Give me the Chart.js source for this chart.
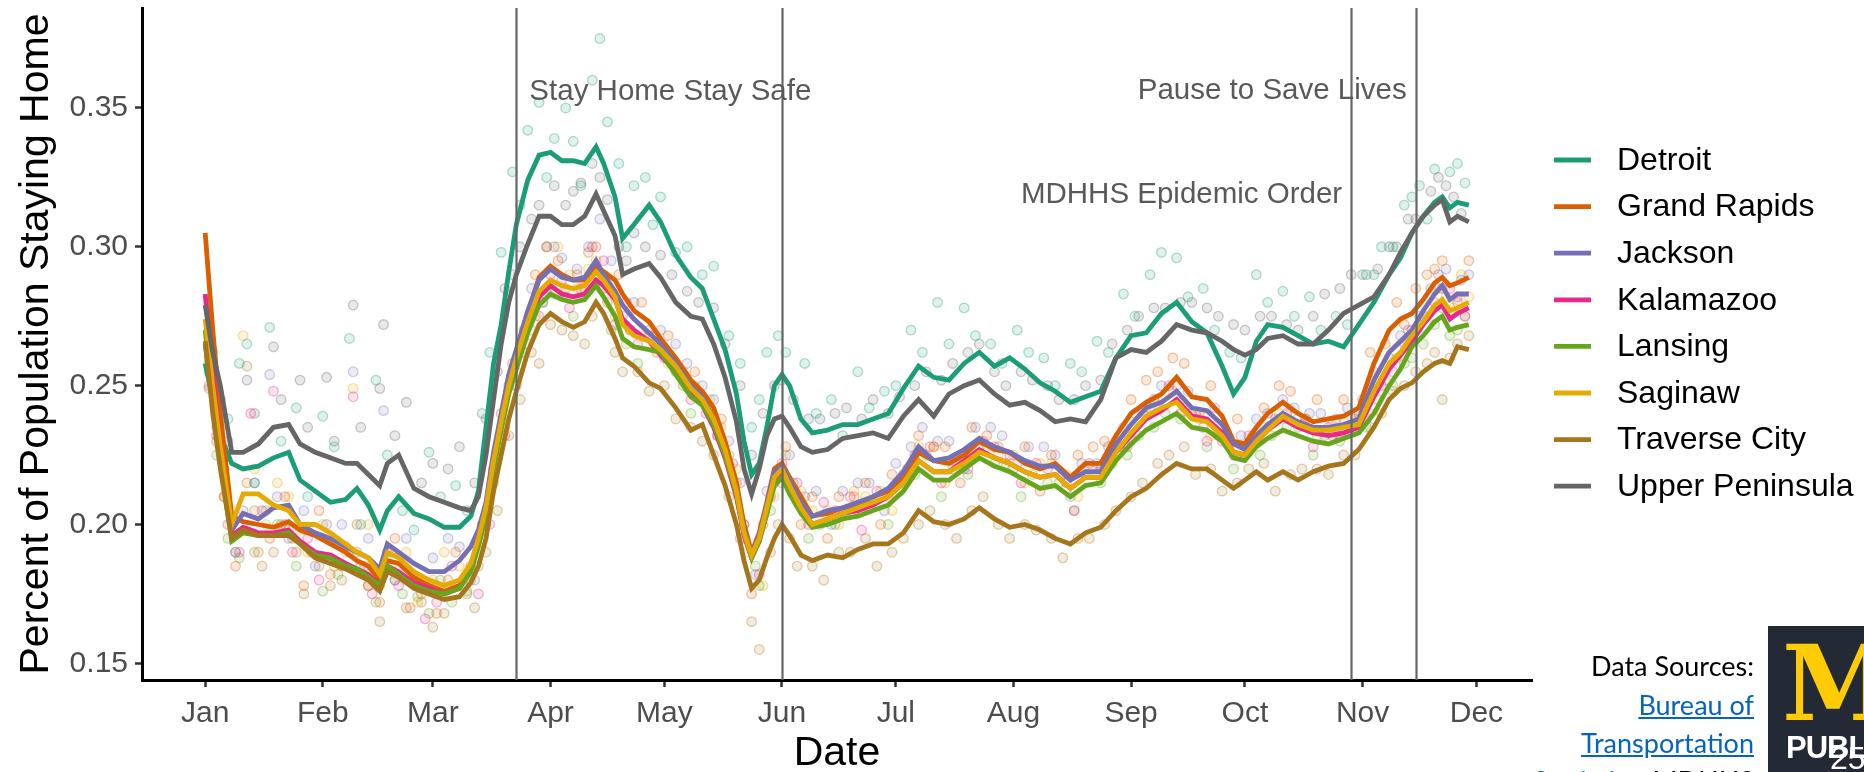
<!DOCTYPE html>
<html>
<head>
<meta charset="utf-8">
<script src="https://cdn.jsdelivr.net/npm/chart.js@4.4.1/dist/chart.umd.min.js"></script>
<style>
  body { margin: 0; background: #fff; overflow: hidden; }
  #wrap { position: relative; width: 1864px; height: 772px; }
  .src { position: absolute; right: 110px; font-family: Lato, "Open Sans", sans-serif; font-size: 27px; line-height: 30px; color: #000; white-space: nowrap; }
  .src a { color: #0563c1; text-decoration: underline; }
  #logo { position: absolute; left: 1768px; top: 626px; width: 96px; height: 146px; background: #232a35; overflow: hidden; }
  #logo .m { position: absolute; left: 14px; top: 6px; font-family: "DejaVu Serif", serif; font-weight: bold; font-size: 104px; line-height: 104px; color: #ffcb05; }
  #logo .pub { position: absolute; left: 18px; top: 104px; font-family: "Liberation Sans", Arial, sans-serif; font-weight: bold; font-size: 31px; color: #fff; letter-spacing: -1px; }
  #logo .pg { position: absolute; left: 62px; top: 114px; font-family: "Liberation Sans", Arial, sans-serif; font-size: 32px; color: #fff; }
</style>
</head>
<body>
<div id="wrap">
  <canvas id="stayHome" width="1864" height="772"></canvas>
  <div class="src" style="top:651px">Data Sources:</div>
  <div class="src" style="top:690px"><a>Bureau of</a></div>
  <div class="src" style="top:728px"><a>Transportation</a></div>
  <div class="src" style="top:766px"><a>Statistics</a>, MDHHS</div>
  <div id="logo"><span class="m">M</span><span class="pub">PUBL</span><span class="pg">25</span></div>
</div>
<script>
// day of year 2020 (Jan 1 = 0)
const days = [0,2,4,7,10,14,18,22,25,29,33,37,40,43,46,48,51,55,59,63,67,70,72,74,76,78,80,82,85,88,
  91,94,97,100,103,105,108,110,113,117,120,124,128,131,134,137,140,142,144,146,148,150,152,154,157,160,
  164,168,172,176,180,184,188,192,196,200,204,208,212,216,220,224,228,232,236,240,244,248,252,256,260,
  264,268,271,274,277,280,284,288,292,296,300,304,308,312,315,318,321,324,326,328,330,333];

// 7-day average share staying home
const detroit = [0.258,0.245,0.232,0.222,0.220,0.221,0.224,0.226,0.216,0.212,0.208,0.209,0.213,0.207,0.198,0.205,0.210,0.204,0.202,0.199,0.199,0.203,0.212,0.235,0.258,0.272,0.291,0.308,0.324,0.333,
  0.334,0.331,0.331,0.330,0.336,0.330,0.318,0.303,0.308,0.315,0.309,0.297,0.289,0.285,0.274,0.263,0.247,0.230,0.218,0.222,0.235,0.250,0.254,0.250,0.238,0.233,
  0.234,0.236,0.236,0.238,0.240,0.249,0.257,0.253,0.252,0.258,0.262,0.257,0.260,0.256,0.251,0.248,0.244,0.246,0.248,0.260,0.268,0.269,0.276,0.280,0.273,
  0.269,0.257,0.247,0.253,0.266,0.272,0.271,0.268,0.265,0.266,0.264,0.272,0.280,0.290,0.296,0.305,0.311,0.316,0.318,0.314,0.316,0.315];
const grandRapids = [0.305,0.270,0.240,0.203,0.201,0.200,0.199,0.201,0.198,0.196,0.193,0.190,0.187,0.185,0.180,0.187,0.186,0.181,0.178,0.176,0.178,0.185,0.195,0.207,0.225,0.238,0.252,0.262,0.276,0.289,
  0.293,0.290,0.288,0.288,0.293,0.291,0.288,0.283,0.277,0.273,0.267,0.260,0.252,0.248,0.242,0.230,0.215,0.200,0.190,0.197,0.208,0.220,0.222,0.217,0.210,0.203,
  0.204,0.206,0.207,0.210,0.212,0.217,0.226,0.223,0.222,0.225,0.230,0.227,0.226,0.222,0.220,0.222,0.217,0.222,0.222,0.232,0.240,0.244,0.247,0.253,0.246,
  0.245,0.239,0.230,0.229,0.235,0.240,0.244,0.240,0.237,0.238,0.239,0.242,0.258,0.270,0.274,0.276,0.281,0.287,0.289,0.286,0.287,0.289];
const jackson = [0.265,0.245,0.225,0.198,0.204,0.202,0.206,0.207,0.200,0.197,0.195,0.192,0.190,0.188,0.184,0.193,0.190,0.186,0.183,0.183,0.187,0.192,0.198,0.208,0.226,0.240,0.254,0.263,0.277,0.288,
  0.292,0.289,0.288,0.289,0.295,0.290,0.284,0.279,0.274,0.269,0.265,0.258,0.250,0.246,0.238,0.226,0.212,0.198,0.189,0.196,0.207,0.219,0.221,0.216,0.208,0.203,
  0.205,0.206,0.208,0.210,0.213,0.219,0.228,0.223,0.224,0.227,0.231,0.228,0.226,0.223,0.221,0.221,0.216,0.219,0.219,0.229,0.236,0.242,0.244,0.248,0.242,
  0.241,0.236,0.229,0.227,0.232,0.236,0.240,0.237,0.235,0.235,0.236,0.238,0.252,0.262,0.266,0.270,0.277,0.283,0.286,0.281,0.283,0.283];
const kalamazoo = [0.283,0.255,0.228,0.196,0.199,0.197,0.197,0.198,0.194,0.190,0.189,0.186,0.184,0.182,0.178,0.185,0.183,0.179,0.177,0.175,0.177,0.184,0.193,0.204,0.222,0.236,0.250,0.259,0.272,0.282,
  0.286,0.283,0.282,0.283,0.288,0.286,0.281,0.274,0.270,0.266,0.261,0.255,0.247,0.243,0.235,0.224,0.210,0.196,0.188,0.194,0.204,0.216,0.219,0.213,0.206,0.200,
  0.202,0.204,0.205,0.207,0.210,0.215,0.223,0.219,0.219,0.223,0.227,0.224,0.222,0.219,0.217,0.218,0.213,0.217,0.217,0.226,0.232,0.238,0.241,0.245,0.239,
  0.238,0.233,0.226,0.225,0.230,0.234,0.238,0.235,0.233,0.232,0.233,0.235,0.246,0.256,0.261,0.266,0.272,0.277,0.279,0.274,0.276,0.278];
const lansing = [0.270,0.245,0.222,0.194,0.197,0.196,0.196,0.197,0.193,0.189,0.188,0.185,0.184,0.181,0.178,0.185,0.182,0.178,0.176,0.175,0.177,0.183,0.192,0.203,0.220,0.234,0.247,0.256,0.269,0.279,
  0.283,0.281,0.280,0.281,0.286,0.282,0.275,0.267,0.264,0.263,0.262,0.254,0.246,0.243,0.236,0.225,0.211,0.197,0.188,0.194,0.204,0.214,0.217,0.211,0.204,0.199,
  0.200,0.202,0.203,0.205,0.207,0.212,0.220,0.216,0.216,0.220,0.224,0.221,0.219,0.216,0.213,0.214,0.210,0.214,0.215,0.223,0.229,0.234,0.237,0.240,0.235,
  0.234,0.230,0.224,0.223,0.228,0.231,0.234,0.232,0.230,0.229,0.231,0.233,0.240,0.250,0.256,0.264,0.268,0.273,0.275,0.270,0.271,0.272];
const saginaw = [0.274,0.250,0.228,0.200,0.211,0.211,0.207,0.205,0.200,0.200,0.197,0.193,0.190,0.188,0.182,0.190,0.188,0.183,0.180,0.178,0.180,0.186,0.195,0.206,0.223,0.237,0.250,0.260,0.273,0.284,
  0.288,0.286,0.285,0.286,0.291,0.288,0.282,0.272,0.268,0.266,0.263,0.257,0.249,0.245,0.238,0.227,0.212,0.197,0.189,0.195,0.206,0.217,0.220,0.214,0.206,0.200,
  0.202,0.204,0.206,0.208,0.210,0.215,0.223,0.219,0.219,0.222,0.226,0.224,0.222,0.219,0.217,0.218,0.213,0.217,0.217,0.226,0.233,0.239,0.242,0.244,0.238,
  0.237,0.232,0.226,0.225,0.230,0.234,0.239,0.236,0.234,0.234,0.235,0.236,0.248,0.258,0.262,0.268,0.273,0.279,0.281,0.277,0.278,0.280];
const traverseCity = [0.266,0.240,0.220,0.195,0.198,0.196,0.196,0.196,0.193,0.188,0.186,0.184,0.182,0.180,0.176,0.183,0.181,0.177,0.175,0.173,0.174,0.179,0.185,0.195,0.212,0.225,0.238,0.248,0.262,0.272,
  0.276,0.273,0.271,0.273,0.280,0.276,0.267,0.260,0.257,0.251,0.249,0.242,0.234,0.236,0.225,0.214,0.200,0.187,0.177,0.180,0.188,0.195,0.200,0.196,0.189,0.187,
  0.189,0.188,0.191,0.193,0.193,0.197,0.205,0.201,0.200,0.202,0.206,0.202,0.199,0.200,0.198,0.195,0.193,0.197,0.199,0.205,0.210,0.213,0.218,0.222,0.220,
  0.220,0.216,0.213,0.216,0.219,0.216,0.219,0.216,0.219,0.221,0.222,0.227,0.235,0.245,0.249,0.251,0.255,0.258,0.259,0.258,0.264,0.263];
const upperPeninsula = [0.279,0.262,0.250,0.226,0.226,0.229,0.235,0.236,0.229,0.226,0.224,0.222,0.222,0.218,0.214,0.222,0.225,0.213,0.210,0.208,0.206,0.205,0.210,0.225,0.245,0.265,0.280,0.290,0.301,0.311,
  0.311,0.308,0.308,0.311,0.319,0.313,0.304,0.290,0.292,0.294,0.289,0.280,0.275,0.274,0.265,0.253,0.237,0.220,0.211,0.220,0.232,0.238,0.239,0.235,0.228,0.226,
  0.227,0.231,0.232,0.233,0.231,0.239,0.245,0.239,0.247,0.250,0.252,0.247,0.243,0.244,0.241,0.237,0.238,0.237,0.245,0.260,0.263,0.262,0.266,0.272,0.270,
  0.269,0.266,0.263,0.261,0.263,0.267,0.268,0.265,0.265,0.270,0.276,0.279,0.282,0.290,0.298,0.305,0.311,0.315,0.317,0.309,0.311,0.309];

// daily observations (subset), [day, share]
const detroitDots = [[2,0.262],[6,0.238],[9,0.258],[11,0.265],[13,0.215],[17,0.271],[20,0.23],[24,0.242],[27,0.21],[31,0.239],[34,0.228],[38,0.267],[41,0.2],[45,0.252],[48,0.225],[52,0.205],[55,0.198],[59,0.226],[62,0.21],[66,0.214],[69,0.205],[73,0.24],[75,0.262],[78,0.298],[81,0.327],[83,0.315],[85,0.342],[88,0.352],[90,0.325],[92,0.339],[95,0.35],[97,0.338],[99,0.322],[102,0.36],[104,0.375],[106,0.345],[109,0.33],[111,0.3],[113,0.322],[116,0.325],[118,0.308],[120,0.318],[124,0.298],[127,0.3],[131,0.29],[134,0.293],[138,0.268],[141,0.258],[144,0.235],[146,0.245],[148,0.262],[151,0.268],[153,0.262],[158,0.258],[161,0.24],[165,0.245],[168,0.232],[172,0.255],[175,0.242],[179,0.248],[182,0.25],[186,0.27],[189,0.262],[193,0.28],[196,0.265],[200,0.278],[203,0.268],[207,0.265],[210,0.258],[214,0.27],[217,0.262],[221,0.26],[224,0.25],[228,0.258],[231,0.255],[235,0.266],[238,0.262],[242,0.283],[245,0.275],[249,0.29],[252,0.298],[256,0.296],[259,0.282],[263,0.285],[266,0.27],[270,0.262],[273,0.26],[277,0.29],[280,0.28],[284,0.284],[287,0.275],[291,0.282],[294,0.27],[298,0.275],[301,0.272],[305,0.29],[308,0.29],[310,0.3],[313,0.3],[316,0.315],[318,0.318],[320,0.322],[322,0.31],[324,0.328],[328,0.327],[330,0.33],[332,0.323]];
const grandRapidsDots = [[1,0.249],[3,0.243],[5,0.21],[8,0.185],[11,0.215],[14,0.19],[17,0.195],[21,0.21],[24,0.19],[26,0.178],[30,0.205],[33,0.182],[36,0.185],[40,0.2],[43,0.178],[46,0.172],[50,0.195],[54,0.17],[57,0.175],[61,0.168],[64,0.18],[66,0.19],[70,0.185],[73,0.2],[76,0.22],[78,0.24],[81,0.258],[84,0.27],[87,0.29],[90,0.3],[93,0.295],[95,0.285],[98,0.29],[101,0.298],[103,0.3],[106,0.28],[109,0.29],[112,0.27],[115,0.28],[119,0.262],[122,0.268],[126,0.25],[129,0.255],[133,0.24],[136,0.238],[140,0.215],[142,0.195],[144,0.175],[147,0.2],[150,0.215],[153,0.228],[157,0.2],[160,0.21],[164,0.195],[167,0.21],[171,0.21],[174,0.215],[178,0.2],[181,0.218],[185,0.22],[188,0.232],[192,0.228],[195,0.228],[199,0.215],[202,0.235],[206,0.232],[209,0.228],[213,0.22],[216,0.228],[220,0.212],[223,0.225],[227,0.215],[230,0.225],[234,0.228],[237,0.23],[241,0.228],[244,0.245],[248,0.252],[251,0.255],[255,0.26],[258,0.258],[262,0.24],[265,0.25],[269,0.232],[272,0.238],[276,0.228],[279,0.242],[283,0.25],[286,0.248],[290,0.238],[293,0.245],[297,0.232],[300,0.245],[304,0.24],[307,0.262],[311,0.265],[314,0.28],[316,0.272],[319,0.285],[322,0.29],[324,0.292],[326,0.295],[330,0.28],[333,0.295]];
const jacksonDots = [[1,0.25],[3,0.235],[5,0.22],[8,0.19],[10,0.205],[13,0.215],[17,0.254],[19,0.21],[22,0.195],[26,0.205],[29,0.185],[32,0.2],[36,0.2],[39,0.255],[43,0.195],[47,0.241],[50,0.18],[53,0.195],[57,0.178],[60,0.188],[64,0.195],[67,0.192],[71,0.18],[74,0.2],[77,0.225],[80,0.25],[83,0.265],[86,0.285],[89,0.28],[92,0.3],[94,0.296],[98,0.292],[101,0.3],[104,0.31],[107,0.295],[110,0.275],[113,0.28],[117,0.27],[120,0.27],[124,0.265],[127,0.258],[131,0.25],[134,0.245],[138,0.23],[141,0.215],[145,0.182],[148,0.212],[151,0.22],[154,0.225],[158,0.21],[161,0.212],[165,0.2],[168,0.212],[172,0.215],[175,0.215],[179,0.205],[182,0.222],[186,0.228],[189,0.235],[193,0.23],[196,0.23],[200,0.22],[203,0.235],[207,0.235],[210,0.232],[214,0.222],[217,0.228],[221,0.228],[224,0.225],[228,0.21],[231,0.222],[235,0.222],[238,0.228],[242,0.235],[245,0.24],[249,0.242],[252,0.25],[256,0.25],[259,0.248],[263,0.235],[266,0.242],[270,0.23],[273,0.232],[277,0.238],[280,0.24],[284,0.245],[287,0.242],[291,0.24],[294,0.24],[298,0.238],[301,0.242],[305,0.245],[308,0.255],[312,0.26],[315,0.268],[317,0.27],[320,0.275],[323,0.285],[325,0.29],[327,0.292],[331,0.288],[333,0.29]];
const kalamazooDots = [[1,0.265],[3,0.232],[6,0.2],[9,0.19],[12,0.24],[15,0.205],[18,0.248],[21,0.2],[23,0.19],[27,0.195],[30,0.18],[33,0.188],[37,0.192],[39,0.246],[41,0.185],[44,0.175],[48,0.19],[51,0.178],[55,0.18],[58,0.166],[61,0.172],[65,0.185],[68,0.18],[72,0.175],[75,0.2],[79,0.232],[82,0.25],[85,0.265],[88,0.275],[91,0.29],[94,0.288],[96,0.278],[99,0.285],[102,0.3],[105,0.295],[108,0.272],[111,0.28],[114,0.265],[118,0.268],[121,0.26],[125,0.255],[128,0.245],[132,0.24],[135,0.232],[139,0.222],[142,0.2],[146,0.182],[149,0.21],[152,0.222],[156,0.215],[159,0.2],[163,0.208],[166,0.205],[170,0.21],[173,0.198],[177,0.212],[180,0.21],[184,0.218],[187,0.225],[191,0.228],[194,0.215],[198,0.222],[201,0.22],[205,0.23],[208,0.228],[212,0.225],[215,0.215],[219,0.222],[222,0.22],[226,0.218],[229,0.205],[233,0.222],[236,0.22],[240,0.23],[243,0.228],[247,0.24],[250,0.245],[254,0.25],[257,0.24],[261,0.24],[264,0.23],[268,0.23],[271,0.225],[275,0.232],[278,0.232],[282,0.238],[285,0.24],[289,0.236],[292,0.228],[296,0.235],[299,0.232],[303,0.238],[306,0.238],[310,0.25],[313,0.255],[316,0.265],[318,0.27],[321,0.275],[324,0.28],[326,0.285],[328,0.285],[330,0.282],[332,0.275]];
const lansingDots = [[1,0.258],[3,0.225],[6,0.195],[9,0.188],[13,0.19],[16,0.205],[19,0.2],[22,0.198],[24,0.185],[28,0.19],[31,0.176],[35,0.182],[38,0.19],[42,0.185],[45,0.172],[49,0.19],[52,0.175],[56,0.174],[59,0.168],[62,0.18],[65,0.172],[69,0.176],[72,0.185],[76,0.215],[79,0.235],[82,0.255],[84,0.262],[86,0.27],[89,0.28],[92,0.283],[95,0.282],[97,0.275],[100,0.285],[103,0.29],[105,0.29],[107,0.27],[111,0.265],[114,0.258],[117,0.268],[121,0.262],[124,0.255],[128,0.24],[131,0.245],[135,0.232],[138,0.225],[142,0.2],[145,0.185],[146,0.178],[149,0.205],[152,0.215],[155,0.215],[159,0.195],[162,0.2],[166,0.2],[169,0.205],[173,0.205],[176,0.208],[180,0.2],[183,0.212],[187,0.218],[190,0.225],[194,0.21],[197,0.22],[201,0.218],[204,0.228],[208,0.222],[211,0.222],[215,0.21],[218,0.218],[222,0.215],[225,0.215],[229,0.205],[232,0.218],[236,0.215],[239,0.222],[243,0.225],[246,0.232],[250,0.235],[253,0.24],[257,0.238],[260,0.24],[264,0.228],[267,0.232],[271,0.22],[274,0.225],[278,0.225],[281,0.232],[285,0.235],[288,0.235],[292,0.225],[295,0.232],[299,0.23],[302,0.235],[306,0.235],[309,0.245],[313,0.25],[316,0.258],[318,0.26],[321,0.265],[324,0.272],[326,0.278],[328,0.268],[330,0.27],[332,0.275]];
const saginawDots = [[1,0.26],[4,0.235],[7,0.205],[10,0.268],[13,0.22],[16,0.2],[19,0.215],[22,0.21],[25,0.198],[27,0.19],[31,0.2],[34,0.185],[37,0.19],[39,0.249],[43,0.2],[46,0.178],[49,0.185],[53,0.19],[56,0.172],[60,0.18],[63,0.19],[67,0.185],[70,0.18],[73,0.2],[76,0.22],[79,0.24],[81,0.25],[84,0.268],[87,0.275],[90,0.285],[93,0.3],[96,0.29],[98,0.285],[101,0.292],[103,0.295],[106,0.285],[108,0.275],[112,0.27],[115,0.268],[119,0.265],[122,0.258],[126,0.255],[129,0.25],[133,0.245],[136,0.235],[140,0.22],[143,0.19],[147,0.178],[150,0.21],[153,0.225],[157,0.212],[160,0.205],[164,0.205],[167,0.2],[171,0.212],[174,0.21],[178,0.212],[181,0.205],[185,0.218],[188,0.228],[192,0.228],[195,0.215],[199,0.222],[202,0.225],[206,0.228],[209,0.225],[213,0.225],[216,0.215],[220,0.222],[223,0.222],[227,0.218],[230,0.21],[234,0.22],[237,0.22],[241,0.228],[244,0.23],[248,0.24],[251,0.245],[255,0.248],[258,0.242],[262,0.238],[265,0.232],[269,0.23],[272,0.225],[276,0.232],[279,0.235],[283,0.24],[286,0.24],[290,0.238],[293,0.232],[297,0.236],[300,0.238],[304,0.238],[307,0.24],[311,0.252],[314,0.26],[317,0.265],[319,0.27],[322,0.275],[325,0.285],[327,0.282],[329,0.278],[331,0.29],[333,0.282]];
const traverseCityDots = [[1,0.255],[3,0.23],[5,0.21],[8,0.19],[11,0.257],[13,0.205],[15,0.185],[18,0.19],[20,0.2],[23,0.195],[26,0.175],[30,0.185],[33,0.178],[36,0.18],[40,0.19],[43,0.178],[46,0.165],[50,0.18],[53,0.17],[57,0.172],[60,0.163],[63,0.168],[66,0.178],[69,0.175],[71,0.17],[74,0.19],[77,0.205],[80,0.232],[83,0.245],[86,0.262],[88,0.258],[91,0.272],[94,0.27],[97,0.268],[100,0.265],[102,0.275],[105,0.285],[108,0.262],[110,0.255],[114,0.255],[117,0.248],[121,0.25],[124,0.238],[128,0.235],[131,0.23],[134,0.225],[138,0.21],[141,0.195],[144,0.165],[146,0.155],[149,0.19],[151,0.2],[154,0.195],[156,0.185],[160,0.185],[163,0.18],[167,0.19],[170,0.19],[174,0.195],[177,0.185],[181,0.19],[184,0.195],[188,0.2],[191,0.205],[195,0.2],[198,0.195],[202,0.205],[205,0.21],[209,0.2],[212,0.195],[216,0.2],[219,0.198],[223,0.195],[226,0.188],[230,0.195],[233,0.195],[237,0.2],[240,0.205],[244,0.21],[247,0.215],[251,0.222],[254,0.225],[258,0.228],[261,0.218],[265,0.22],[268,0.212],[272,0.215],[275,0.22],[279,0.222],[282,0.212],[286,0.218],[289,0.22],[293,0.22],[296,0.218],[300,0.225],[303,0.225],[307,0.235],[310,0.24],[313,0.248],[316,0.25],[319,0.255],[322,0.258],[324,0.262],[326,0.245],[328,0.26],[330,0.265],[333,0.268]];
const upperPeninsulaDots = [[1,0.27],[4,0.245],[6,0.23],[11,0.252],[13,0.24],[18,0.264],[20,0.245],[25,0.252],[27,0.235],[32,0.253],[34,0.23],[39,0.279],[41,0.235],[46,0.249],[47,0.272],[50,0.232],[53,0.244],[57,0.215],[60,0.222],[64,0.22],[67,0.228],[71,0.215],[74,0.238],[77,0.255],[79,0.285],[81,0.29],[83,0.3],[86,0.31],[88,0.315],[90,0.3],[92,0.322],[95,0.315],[97,0.32],[99,0.323],[102,0.33],[104,0.325],[106,0.317],[109,0.3],[111,0.295],[113,0.305],[116,0.3],[120,0.297],[123,0.29],[127,0.284],[130,0.28],[134,0.278],[137,0.265],[141,0.25],[144,0.225],[147,0.24],[150,0.25],[152,0.252],[155,0.245],[159,0.238],[162,0.238],[166,0.24],[169,0.242],[173,0.238],[176,0.245],[180,0.24],[183,0.246],[187,0.25],[190,0.255],[194,0.252],[197,0.258],[201,0.262],[204,0.265],[208,0.255],[211,0.25],[215,0.255],[218,0.252],[222,0.25],[225,0.245],[229,0.245],[232,0.25],[236,0.252],[239,0.265],[243,0.27],[246,0.275],[250,0.278],[253,0.278],[257,0.28],[260,0.28],[264,0.278],[267,0.275],[271,0.272],[274,0.27],[278,0.275],[281,0.275],[285,0.272],[288,0.27],[292,0.275],[295,0.283],[299,0.285],[302,0.29],[306,0.29],[309,0.292],[312,0.3],[314,0.3],[317,0.31],[319,0.31],[323,0.32],[325,0.325],[327,0.322],[329,0.318],[331,0.312]];

const cities = ["Detroit", "Grand Rapids", "Jackson", "Kalamazoo", "Lansing", "Saginaw", "Traverse City", "Upper Peninsula"];
const cityColors = ["#1b9e77", "#d95f02", "#7570b3", "#e7298a", "#66a61e", "#e6ab02", "#a6761d", "#666666"];
const lineSeries = [detroit, grandRapids, jackson, kalamazoo, lansing, saginaw, traverseCity, upperPeninsula];
const dotSeries = [detroitDots, grandRapidsDots, jacksonDots, kalamazooDots, lansingDots, saginawDots, traverseCityDots, upperPeninsulaDots];

const monthDays = [0, 31, 60, 91, 121, 152, 182, 213, 244, 274, 305, 335];
const monthLabels = ["Jan", "Feb", "Mar", "Apr", "May", "Jun", "Jul", "Aug", "Sep", "Oct", "Nov", "Dec"];
const yTicks = [0.15, 0.20, 0.25, 0.30, 0.35];

const orderDays = [82, 152, 302, 319];
const orderLabels = [
  {text: "Stay Home Stay Safe", day: 82, side: "right", y: 92},
  {text: "Pause to Save Lives", day: 319, side: "left", y: 91},
  {text: "MDHHS Epidemic Order", day: 302, side: "left", y: 195}
];

function rgba(hex, a) {
  const n = parseInt(hex.slice(1), 16);
  return "rgba(" + (n >> 16) + "," + ((n >> 8) & 255) + "," + (n & 255) + "," + a + ")";
}

const FONT = "'Liberation Sans', Arial, sans-serif";

const datasets = [];
cities.forEach(function (name, i) {
  datasets.push({
    type: "line",
    label: name,
    data: days.map(function (d, k) { return {x: d, y: lineSeries[i][k]}; }),
    borderColor: cityColors[i],
    borderWidth: 4.8,
    pointRadius: 0,
    tension: 0,
    fill: false,
    order: 10 + (7 - i)
  });
});
cities.forEach(function (name, i) {
  datasets.push({
    type: "scatter",
    label: name + " daily",
    data: dotSeries[i].map(function (p) { return {x: p[0], y: p[1]}; }),
    pointRadius: 4.8,
    pointBackgroundColor: rgba(cityColors[i], 0.14),
    pointBorderColor: rgba(cityColors[i], 0.34),
    pointBorderWidth: 1.3,
    showLine: false,
    order: 30 + i
  });
});

const orderLines = {
  id: "orderLines",
  afterDatasetsDraw(chart) {
    const {ctx, chartArea, scales} = chart;
    ctx.save();
    ctx.strokeStyle = "#666666";
    ctx.lineWidth = 2.2;
    orderDays.forEach(function (d) {
      const x = Math.round(scales.x.getPixelForValue(d)) + 0.5;
      ctx.beginPath();
      ctx.moveTo(x, chartArea.top);
      ctx.lineTo(x, chartArea.bottom);
      ctx.stroke();
    });
    ctx.fillStyle = "#595959";
    ctx.font = "29.5px " + FONT;
    ctx.textBaseline = "middle";
    orderLabels.forEach(function (o) {
      const x = scales.x.getPixelForValue(o.day);
      if (o.side === "right") {
        ctx.textAlign = "left";
        ctx.fillText(o.text, x + 13, o.y);
      } else {
        ctx.textAlign = "right";
        ctx.fillText(o.text, x - 9, o.y);
      }
    });
    ctx.restore();
  },
  afterDraw(chart) {
    const ctx = chart.ctx;
    ctx.save();
    ctx.font = "32px " + FONT;
    ctx.textBaseline = "middle";
    ctx.textAlign = "left";
    cities.forEach(function (name, i) {
      const y = 160 + i * 46.6;
      ctx.strokeStyle = cityColors[i];
      ctx.lineWidth = 4.8;
      ctx.beginPath();
      ctx.moveTo(1554, y);
      ctx.lineTo(1591, y);
      ctx.stroke();
      ctx.fillStyle = "#000";
      ctx.fillText(name, 1617, y + 1);
    });
    ctx.restore();
  }
};

new Chart(document.getElementById("stayHome"), {
  data: {datasets: datasets},
  plugins: [orderLines],
  options: {
    responsive: false,
    animation: false,
    devicePixelRatio: 1,
    layout: {padding: {left: 0, right: 332, top: 8, bottom: 0}},
    plugins: {legend: {display: false}, tooltip: {enabled: false}},
    scales: {
      x: {
        type: "linear",
        min: -16.65,
        max: 349.65,
        afterFit(scale) { scale.height = 92; scale.paddingLeft = 0; scale.paddingRight = 0; },
        afterBuildTicks(scale) { scale.ticks = monthDays.map(function (v) { return {value: v}; }); },
        border: {display: true, color: "#000", width: 3},
        grid: {display: true, drawOnChartArea: false, drawTicks: true, tickLength: 7, tickColor: "#333", tickWidth: 2.5},
        ticks: {
          autoSkip: false,
          maxRotation: 0,
          padding: 9,
          color: "#4d4d4d",
          font: {family: FONT, size: 30},
          callback(v) { const k = monthDays.indexOf(v); return k >= 0 ? monthLabels[k] : ""; }
        },
        title: {display: true, text: "Date", color: "#000", font: {family: FONT, size: 41, lineHeight: 0.9}, padding: {top: 0, bottom: 0}}
      },
      y: {
        type: "linear",
        min: 0.144,
        max: 0.386,
        afterFit(scale) { scale.width = 142; scale.paddingTop = 0; scale.paddingBottom = 0; },
        afterBuildTicks(scale) { scale.ticks = yTicks.map(function (v) { return {value: v}; }); },
        border: {display: true, color: "#000", width: 3},
        grid: {display: true, drawOnChartArea: false, drawTicks: true, tickLength: 7, tickColor: "#333", tickWidth: 2.5},
        ticks: {
          padding: 7,
          color: "#4d4d4d",
          font: {family: FONT, size: 30},
          callback(v) { return v.toFixed(2); }
        },
        title: {display: true, text: "Percent of Population Staying Home", color: "#000", font: {family: FONT, size: 41, lineHeight: 0.9}, padding: {top: 18, bottom: 0}}
      }
    }
  }
});
</script>
</body>
</html>
